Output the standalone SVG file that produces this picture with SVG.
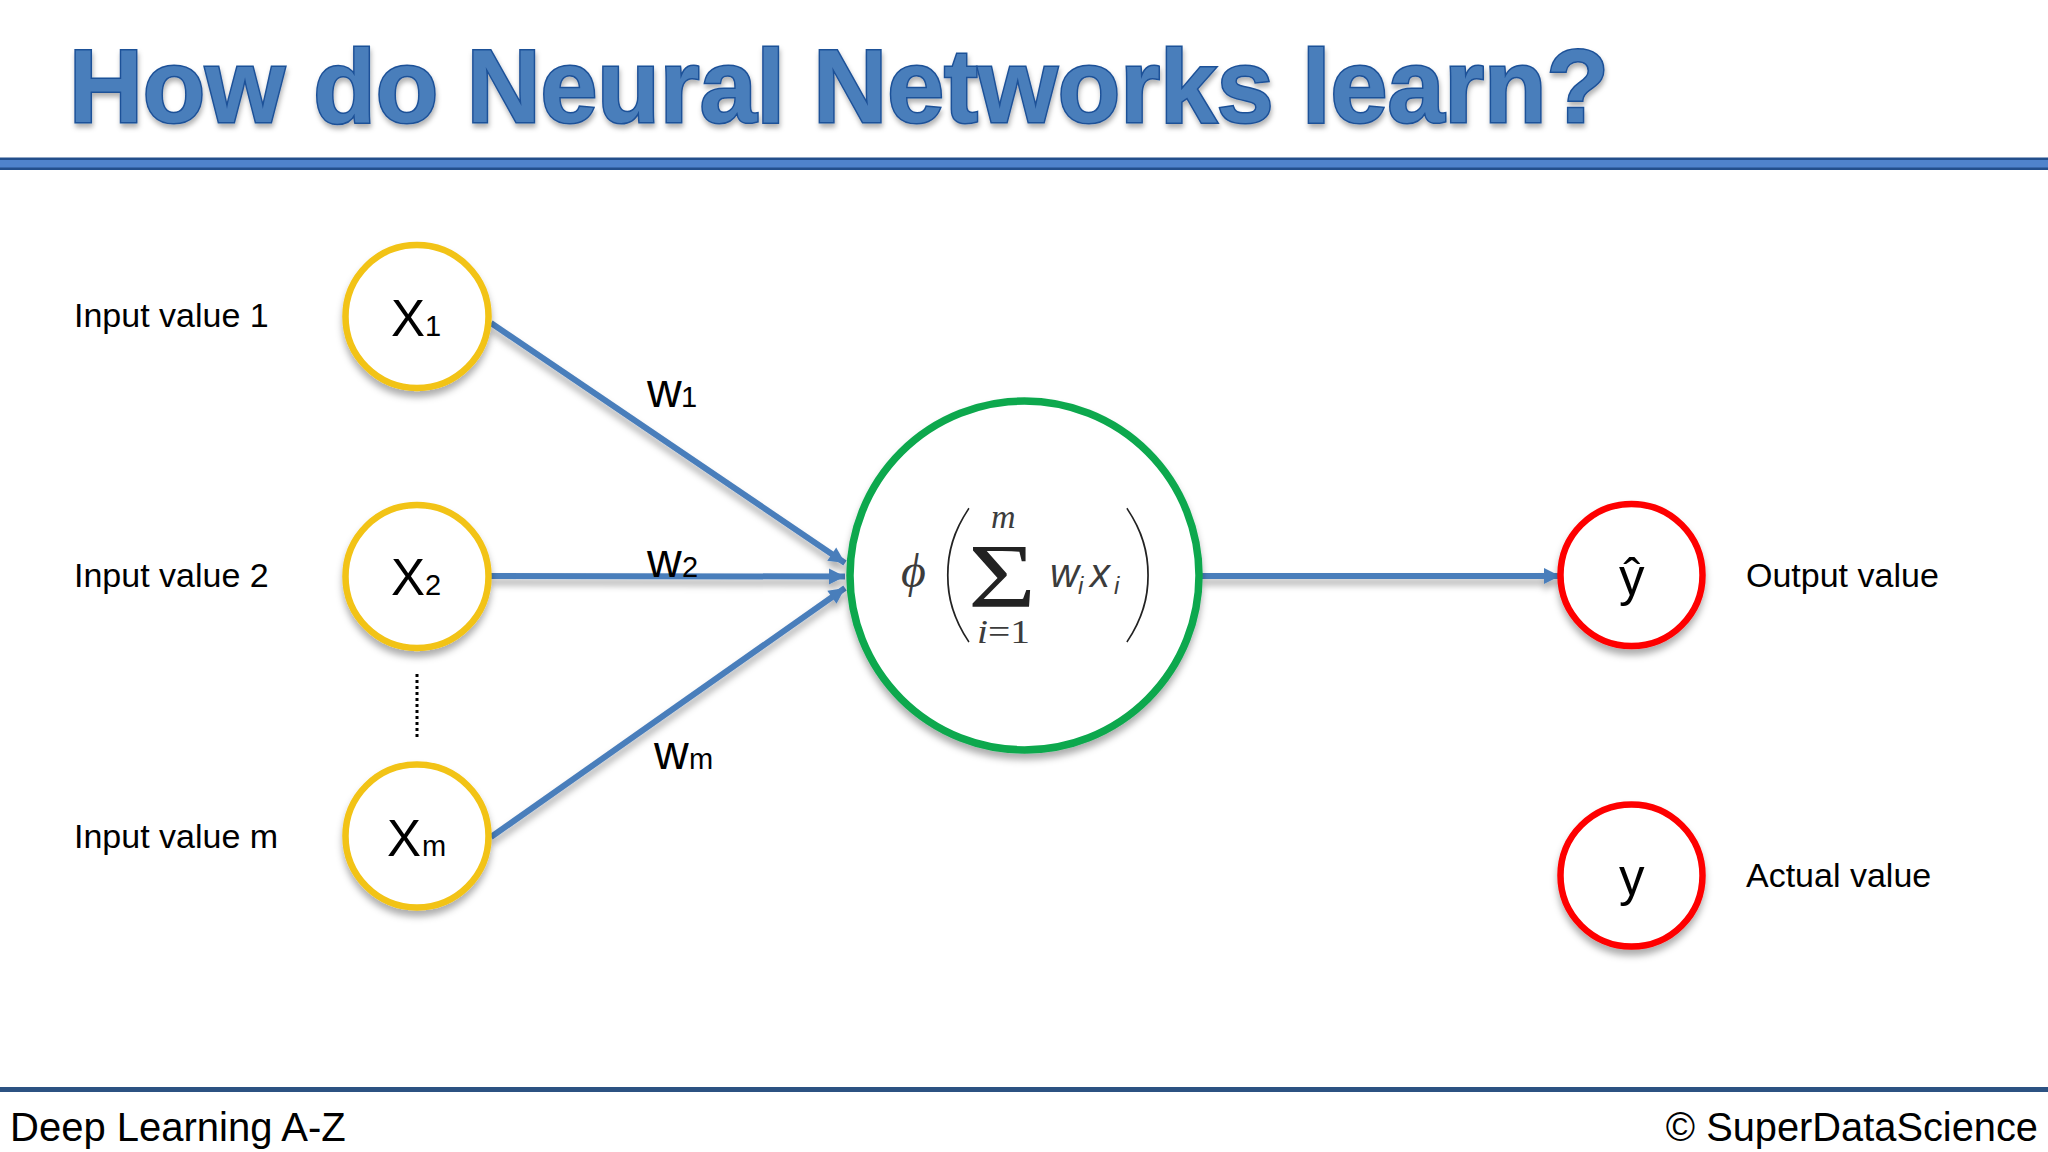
<svg xmlns="http://www.w3.org/2000/svg" width="2048" height="1152" viewBox="0 0 2048 1152">
<style>
text{font-family:"Liberation Sans",Arial,sans-serif;fill:#000}
.title{font-size:104px;font-weight:700;fill:#4a7ebb;stroke:#1d5198;stroke-width:3px;paint-order:stroke fill}
.lab{font-size:34px}
.big{font-size:51px}
.w{font-size:48px}
.sub{font-size:29px}
.foot{font-size:40px}
.math{fill:#3c3c3c;font-style:italic}
.serif{font-family:"Liberation Serif",serif}
.paren{font-family:Lato,sans-serif;font-weight:100;font-size:155px;fill:#222}
circle{fill:#fff}
.in{stroke:#f2c314;stroke-width:6.5}
.out{stroke:#fe0000;stroke-width:6.5}
.mid{stroke:#0ba84e;stroke-width:7.5}
.edge{stroke:#4a7ebb;stroke-width:6;fill:none}
</style>
<defs>
<filter id="sh" x="-20%" y="-20%" width="140%" height="145%"><feDropShadow dx="0" dy="6" stdDeviation="3.5" flood-color="#000" flood-opacity="0.32"/></filter>
<filter id="tsh" x="-2%" y="-10%" width="104%" height="125%"><feDropShadow dx="1" dy="4" stdDeviation="2.5" flood-color="#000" flood-opacity="0.3"/></filter>
<marker id="arr" markerUnits="userSpaceOnUse" markerWidth="18" markerHeight="18" refX="17" refY="9" orient="auto"><path d="M1 1L17 9L1 17Z" fill="#4a7ebb"/></marker>
</defs>
<rect width="2048" height="1152" fill="#fff"/>
<text class="title" x="69" y="122" textLength="1540" lengthAdjust="spacingAndGlyphs" filter="url(#tsh)">How do Neural Networks learn?</text>
<rect x="0" y="158" width="2048" height="12" fill="#4f83cc"/>
<rect x="0" y="157.5" width="2048" height="2.5" fill="#234f8c"/>
<rect x="0" y="167.5" width="2048" height="2.5" fill="#234f8c"/>
<g id="connectors" filter="url(#sh)">
<line class="edge" x1="491" y1="323" x2="845" y2="563" marker-end="url(#arr)"/>
<line class="edge" x1="491" y1="576" x2="845" y2="576.5" marker-end="url(#arr)"/>
<line class="edge" x1="491" y1="837" x2="845" y2="588" marker-end="url(#arr)"/>
<line class="edge" x1="1202" y1="576" x2="1560" y2="576" marker-end="url(#arr)"/>
</g>
<line id="dots" x1="417" y1="674" x2="417" y2="740" stroke="#000" stroke-width="3" stroke-dasharray="3 3"/>
<g id="x1"><circle class="in" cx="417" cy="316.5" r="71.5" filter="url(#sh)"/><text class="big" x="391" y="336">X</text><text class="sub" x="425" y="336">1</text></g>
<g id="x2"><circle class="in" cx="417" cy="576.5" r="71.5" filter="url(#sh)"/><text class="big" x="391" y="595">X</text><text class="sub" x="425" y="595">2</text></g>
<g id="xm"><circle class="in" cx="417" cy="836" r="71.5" filter="url(#sh)"/><text class="big" x="387" y="856">X</text><text class="sub" x="422" y="856">m</text></g>
<g id="neuron"><circle class="mid" cx="1024.5" cy="575.5" r="174.5" filter="url(#sh)"/>
<text class="math serif" x="901" y="587" font-size="48">ϕ</text>
<text class="paren" x="937" y="624">(</text>
<text class="paren" x="1120" y="624">)</text>
<text class="serif" x="968" y="607" font-size="92" style="fill:#222" textLength="68" lengthAdjust="spacingAndGlyphs">Σ</text>
<text class="math serif" x="991" y="528" font-size="34">m</text>
<text class="serif" x="977" y="643" font-size="33" style="fill:#3c3c3c" textLength="53" lengthAdjust="spacingAndGlyphs"><tspan font-style="italic">i</tspan>=1</text>
<text class="math" x="1050" y="587" font-size="40">w</text><text class="math" x="1078" y="594" font-size="24">i</text>
<text class="math" x="1090" y="587" font-size="40">x</text><text class="math" x="1114" y="594" font-size="24">i</text>
</g>
<g id="yhat"><circle class="out" cx="1631.5" cy="575" r="71" filter="url(#sh)"/><text class="big" x="1619" y="595">ŷ</text></g>
<g id="y"><circle class="out" cx="1631.5" cy="875.5" r="71" filter="url(#sh)"/><text class="big" x="1619" y="895">y</text></g>
<g id="labels">
<text class="lab" x="74" y="326.5">Input value 1</text>
<text class="lab" x="74" y="586.5">Input value 2</text>
<text class="lab" x="74" y="847.5">Input value m</text>
<text class="lab" x="1746" y="586.5">Output value</text>
<text class="lab" x="1746" y="886.5">Actual value</text>
<text class="w" x="647" y="407">w</text><text class="sub" x="681" y="407">1</text>
<text class="w" x="647" y="577">w</text><text class="sub" x="682" y="577">2</text>
<text class="w" x="654" y="769">w</text><text class="sub" x="689" y="769">m</text>
</g>
<rect x="0" y="1087" width="2048" height="5" fill="#2c5282"/>
<text class="foot" x="10" y="1141">Deep Learning A-Z</text>
<text class="foot" x="2038" y="1141" text-anchor="end" style="font-size:39.8px">© SuperDataScience</text>
</svg>
